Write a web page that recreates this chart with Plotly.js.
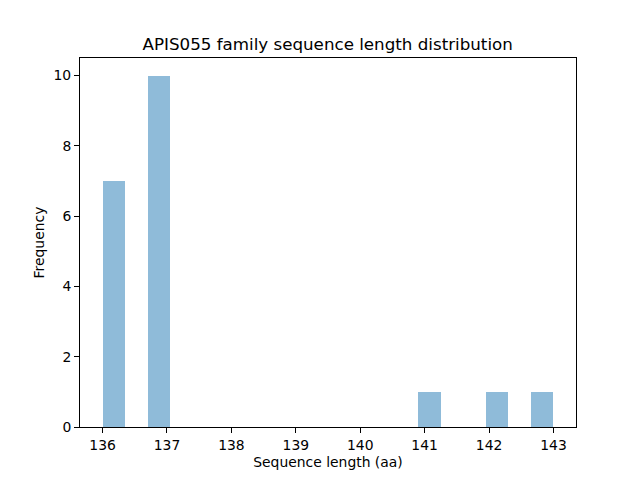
<!DOCTYPE html>
<html><head><meta charset="utf-8">
<script src="https://cdn.plot.ly/plotly-3.0.1.min.js"></script>
<style>html,body{margin:0;padding:0;background:#fff}#chart{width:640px;height:480px}</style>
</head><body><div id="chart"></div>
<script>
var binLeft = [136, 136.7, 140.9, 141.95, 142.65];
var counts = [7, 10, 1, 1, 1];
var binWidth = 0.35;
var xTicks = [136, 137, 138, 139, 140, 141, 142, 143];
var yTicks = [0, 2, 4, 6, 8, 10];

var trace = {
  type: 'bar', x: binLeft, y: counts, width: binWidth, offset: 0,
  marker: {color: '#8fbbd9', line: {width: 0}}, hoverinfo: 'x+y'
};
var axisCommon = {
  showgrid: false, zeroline: false, showline: true, mirror: true,
  linecolor: '#000', linewidth: 1, ticks: 'outside', ticklen: 5, tickwidth: 1,
  tickcolor: '#000', tickfont: {family: 'DejaVu Sans', size: 13.9, color: '#000'}
};
var layout = {
  width: 640, height: 480,
  margin: {l: 80, r: 64, t: 58, b: 53},
  paper_bgcolor: '#fff', plot_bgcolor: '#fff',
  title: {text: 'APIS055 family sequence length distribution', font: {family: 'DejaVu Sans', size: 16.7, color: '#000'}, x: 0.512, xanchor: 'center', y: 0.908, yanchor: 'middle'},
  xaxis: Object.assign({}, axisCommon, {range: [135.65, 143.35], tickvals: xTicks, ticktext: xTicks.map(String),
    title: {text: 'Sequence length (aa)', font: {family: 'DejaVu Sans', size: 13.9, color: '#000'}, standoff: 5}}),
  yaxis: Object.assign({}, axisCommon, {range: [0, 10.5], tickvals: yTicks, ticktext: yTicks.map(String),
    title: {text: 'Frequency', font: {family: 'DejaVu Sans', size: 13.9, color: '#000'}, standoff: 5}}),
  showlegend: false, bargap: 0
};
Plotly.newPlot('chart', [trace], layout, {displayModeBar: false, staticPlot: true});
</script></body></html>
